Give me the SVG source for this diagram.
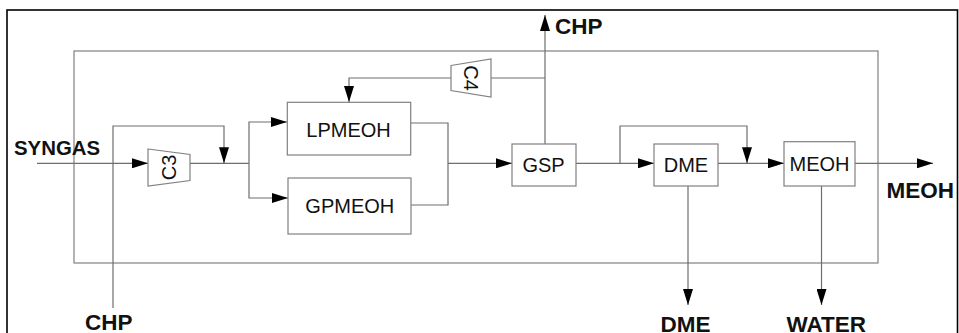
<svg xmlns="http://www.w3.org/2000/svg" width="959" height="333" viewBox="0 0 959 333">
<defs>
<marker id="ah" markerUnits="userSpaceOnUse" markerWidth="16" markerHeight="10" refX="16" refY="5" orient="auto">
<path d="M0,0 L16,5 L0,10 z" fill="#000"/>
</marker>
<style>
.frame{fill:none;stroke:#000;stroke-width:1.6}
.inner{fill:none;stroke:#808080;stroke-width:1.2}
.box{fill:#fff;stroke:#808080;stroke-width:1.2}
.ln{fill:none;stroke:#6e6e6e;stroke-width:1.2}
.arr{marker-end:url(#ah)}
.nt{font-family:"Liberation Sans",Arial,sans-serif;font-size:20px;fill:#111;text-anchor:middle}
.lb{font-family:"Liberation Sans",Arial,sans-serif;font-size:22.5px;font-weight:bold;fill:#111}
</style>
</defs>
<rect x="0" y="0" width="959" height="333" fill="#fff"/>
<rect class="frame" x="7" y="10" width="950.5" height="340"/>
<rect class="inner" x="74" y="51" width="804" height="212"/>

<g id="connectors">
<line class="ln arr" x1="37" y1="163.3" x2="148" y2="163.3"/>
<polyline class="ln" points="190,163.3 249,163.3"/>
<polyline class="ln arr" points="113,308 113,126 224,126 224,163.3"/>
<polyline class="ln arr" points="249,163.3 249,122 287,122"/>
<polyline class="ln arr" points="249,163.3 249,198 288,198"/>
<polyline class="ln" points="411,123 448,123 448,205 411,205"/>
<line class="ln arr" x1="448" y1="163.3" x2="512" y2="163.3"/>
<line class="ln arr" x1="545" y1="144" x2="545" y2="15"/>
<polyline class="ln" points="545,78 491,78"/>
<polyline class="ln arr" points="451,78 349,78 349,102"/>
<line class="ln arr" x1="576" y1="163.3" x2="654" y2="163.3"/>
<polyline class="ln arr" points="620,163.3 620,126 747,126 747,163.3"/>
<line class="ln arr" x1="718" y1="163.3" x2="784" y2="163.3"/>
<line class="ln arr" x1="855" y1="163.3" x2="933" y2="163.3"/>
<line class="ln arr" x1="688" y1="186" x2="688" y2="305"/>
<line class="ln arr" x1="821.5" y1="186" x2="821.5" y2="305"/>
</g>

<g id="C3">
<polygon class="box" points="148,149 190,154.5 190,180.5 148,186"/>
<text class="nt" transform="translate(176,167.5) rotate(-90)">C3</text>
</g>
<g id="C4">
<polygon class="box" points="451,65.5 491,59 491,97 451,90.5"/>
<text class="nt" transform="translate(464,78) rotate(90)">C4</text>
</g>
<g id="LPMEOH">
<rect class="box" x="287.3" y="102.3" width="123.4" height="52.7"/>
<text class="nt" x="348.5" y="136.7">LPMEOH</text>
</g>
<g id="GPMEOH">
<rect class="box" x="288" y="178" width="123" height="56"/>
<text class="nt" x="349.8" y="213.3">GPMEOH</text>
</g>
<g id="GSP">
<rect class="box" x="512" y="144" width="64" height="42"/>
<text class="nt" x="543.5" y="172">GSP</text>
</g>
<g id="DME">
<rect class="box" x="654" y="144" width="64" height="42"/>
<text class="nt" x="686" y="172">DME</text>
</g>
<g id="MEOH">
<rect class="box" x="784" y="141.7" width="71" height="44.3"/>
<text class="nt" x="819.5" y="171">MEOH</text>
</g>

<g id="labels">
<text class="lb" x="14" y="155" style="font-size:20.4px">SYNGAS</text>
<text class="lb" x="555" y="34.3">CHP</text>
<text class="lb" x="85" y="330">CHP</text>
<text class="lb" x="886.5" y="198.3">MEOH</text>
<text class="lb" x="660.5" y="331.8">DME</text>
<text class="lb" x="786.5" y="331.8">WATER</text>
</g>
</svg>
